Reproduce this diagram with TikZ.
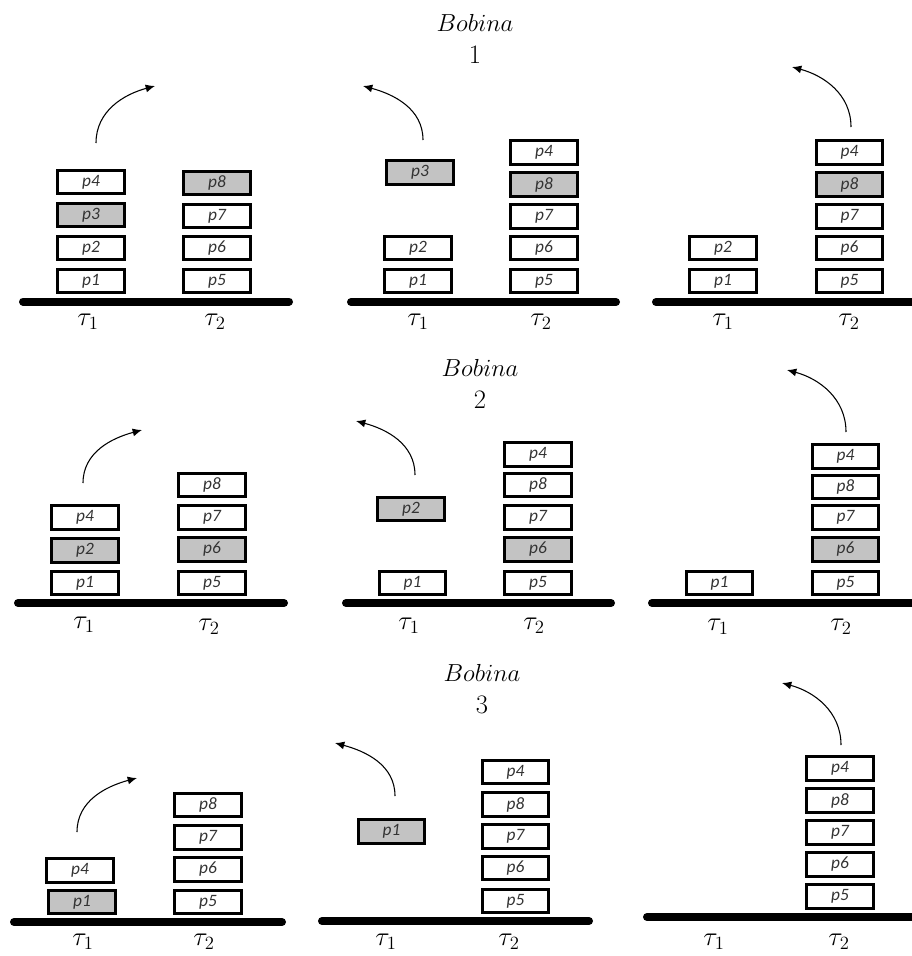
\RequirePackage{fix-cm}
\documentclass[tikz,border=0pt]{standalone}
\usepackage{fontspec}
\usepackage{tikz}
\usetikzlibrary{arrows.meta}
\newfontfamily\piezafont{Carlito}
\definecolor{Relleno}{HTML}{C3C3C3}
\definecolor{Texto}{HTML}{333333}

\begin{document}
\begin{tikzpicture}[
  x=0.75pt,y=-0.75pt,
  pieza/.style={draw,line width=2.2pt,fill=white,minimum width=50pt,minimum height=17.5pt,
    inner sep=0pt,text=Texto,font=\piezafont\itshape\fontsize{13}{14}\selectfont},
  base/.style={line width=6pt,line cap=round},
  flecha/.style={-{Latex[length=7pt,width=6pt]},line width=0.8pt},
  tarea/.style={font=\fontsize{20}{22}\selectfont},
  titulo/.style={font=\fontsize{18.5}{21}\selectfont},
  numero/.style={font=\fontsize{20}{22}\selectfont}
]
  \useasboundingbox (0,0) rectangle (912,956);

  % Bobina 1
  \node[titulo] (bob1) at (475,23) {$Bobina$};
  \node[numero] (num1) at (475,55) {$1$};

  % Panel 1: se retira p3 de tau1
  \draw[base] (23,301.5) -- (289,301.5);
  \foreach \n/\y/\c in {p1/281/white,p2/248/white,p3/215/Relleno,p4/182/white}
    {\node[pieza,fill=\c] (a1-\n) at (91,\y) {\n};}
  \foreach \n/\y/\c in {p5/281/white,p6/248/white,p7/216/white,p8/183/Relleno}
    {\node[pieza,fill=\c] (b1-\n) at (217,\y) {\n};}
  \coordinate (s1) at (96,143);
  \coordinate (e1) at (155,86);
  \draw[flecha] (s1) to[out=90,in=195] (e1);
  \node[tarea] (t1-1) at (88,322) {$\tau_1$};
  \node[tarea] (t1-2) at (215,322) {$\tau_2$};

  % Panel 2
  \draw[base] (351,302) -- (616,302);
  \foreach \n/\y in {p1/281,p2/248}
    {\node[pieza] (a2-\n) at (418,\y) {\n};}
  \node[pieza,fill=Relleno] (a2-p3) at (420,172.5) {p3};
  \foreach \n/\y/\c in {p5/281/white,p6/248/white,p7/216.5/white,p8/184.5/Relleno,p4/152.5/white}
    {\node[pieza,fill=\c] (b2-\n) at (544,\y) {\n};}
  \coordinate (s2) at (423,140);
  \coordinate (e2) at (363,86);
  \draw[flecha] (s2) to[out=90,in=-15] (e2);
  \node[tarea] (t2-1) at (418,322) {$\tau_1$};
  \node[tarea] (t2-2) at (541,322) {$\tau_2$};

  % Panel 3
  \draw[base] (656,302) -- (930,302);
  \foreach \n/\y in {p1/281,p2/248}
    {\node[pieza] (a3-\n) at (723,\y) {\n};}
  \foreach \n/\y/\c in {p5/281/white,p6/248/white,p7/216.5/white,p8/184.5/Relleno,p4/152.5/white}
    {\node[pieza,fill=\c] (b3-\n) at (849.5,\y) {\n};}
  \coordinate (s3) at (851,127);
  \coordinate (e3) at (792,67);
  \draw[flecha] (s3) to[out=90,in=-15] (e3);
  \node[tarea] (t3-1) at (723,322) {$\tau_1$};
  \node[tarea] (t3-2) at (849,322) {$\tau_2$};

  % Bobina 2
  \node[titulo] (bob2) at (480,368) {$Bobina$};
  \node[numero] (num2) at (480,400) {$2$};

  % Panel 4
  \draw[base] (18,603) -- (284,603);
  \foreach \n/\y/\c in {p1/583/white,p2/550.5/Relleno,p4/517.5/white}
    {\node[pieza,fill=\c] (a4-\n) at (85,\y) {\n};}
  \foreach \n/\y/\c in {p5/583/white,p6/549.5/Relleno,p7/517.5/white,p8/485/white}
    {\node[pieza,fill=\c] (b4-\n) at (212,\y) {\n};}
  \coordinate (s4) at (83,483);
  \coordinate (e4) at (142,430);
  \draw[flecha] (s4) to[out=90,in=195] (e4);
  \node[tarea] (t4-1) at (84,625) {$\tau_1$};
  \node[tarea] (t4-2) at (209,627) {$\tau_2$};

  % Panel 5
  \draw[base] (346,603) -- (611,603);
  \node[pieza] (a5-p1) at (412.5,583) {p1};
  \node[pieza,fill=Relleno] (a5-p2) at (411,509) {p2};
  \foreach \n/\y/\c in {p5/583/white,p6/549.5/Relleno,p7/517.5/white,p8/485/white,p4/454.5/white}
    {\node[pieza,fill=\c] (b5-\n) at (538,\y) {\n};}
  \coordinate (s5) at (415,475);
  \coordinate (e5) at (356,421);
  \draw[flecha] (s5) to[out=90,in=-15] (e5);
  \node[tarea] (t5-1) at (409,626) {$\tau_1$};
  \node[tarea] (t5-2) at (534,626) {$\tau_2$};

  % Panel 6
  \draw[base] (652,603) -- (930,603);
  \node[pieza] (a6-p1) at (719.5,583) {p1};
  \foreach \n/\y/\c in {p5/583/white,p6/549.5/Relleno,p7/517.5/white,p8/487/white,p4/456.5/white}
    {\node[pieza,fill=\c] (b6-\n) at (845.5,\y) {\n};}
  \coordinate (s6) at (846,432);
  \coordinate (e6) at (787,370);
  \draw[flecha] (s6) to[out=90,in=-15] (e6);
  \node[tarea] (t6-1) at (718,627) {$\tau_1$};
  \node[tarea] (t6-2) at (841,627) {$\tau_2$};

  % Bobina 3
  \node[titulo] (bob3) at (482,673) {$Bobina$};
  \node[numero] (num3) at (482,705) {$3$};

  % Panel 7
  \draw[base] (14,922) -- (282,922);
  \node[pieza,fill=Relleno] (a7-p1) at (82,902) {p1};
  \node[pieza] (a7-p4) at (80,870.5) {p4};
  \foreach \n/\y in {p5/902,p6/869.5,p7/837.5,p8/805}
    {\node[pieza] (b7-\n) at (208,\y) {\n};}
  \coordinate (s7) at (77,832);
  \coordinate (e7) at (137,778);
  \draw[flecha] (s7) to[out=90,in=195] (e7);
  \node[tarea] (t7-1) at (83,942) {$\tau_1$};
  \node[tarea] (t7-2) at (204,942) {$\tau_2$};

  % Panel 8
  \draw[base] (322,921) -- (589,921);
  \node[pieza,fill=Relleno] (a8-p1) at (391.5,831.5) {p1};
  \foreach \n/\y in {p5/901,p6/868,p7/836.5,p8/804.5,p4/772}
    {\node[pieza] (b8-\n) at (515.5,\y) {\n};}
  \coordinate (s8) at (395,796);
  \coordinate (e8) at (335,743);
  \draw[flecha] (s8) to[out=90,in=-15] (e8);
  \node[tarea] (t8-1) at (386,942) {$\tau_1$};
  \node[tarea] (t8-2) at (509,942) {$\tau_2$};

  % Panel 9
  \draw[base] (647,917) -- (930,917);
  \foreach \n/\y in {p5/896.5,p6/864.5,p7/832.5,p8/800.5,p4/768.5}
    {\node[pieza] (b9-\n) at (840,\y) {\n};}
  \coordinate (s9) at (841,745);
  \coordinate (e9) at (782,683);
  \draw[flecha] (s9) to[out=90,in=-15] (e9);
  \node[tarea] (t9-1) at (714,942) {$\tau_1$};
  \node[tarea] (t9-2) at (839,942) {$\tau_2$};
\end{tikzpicture}
\end{document}
